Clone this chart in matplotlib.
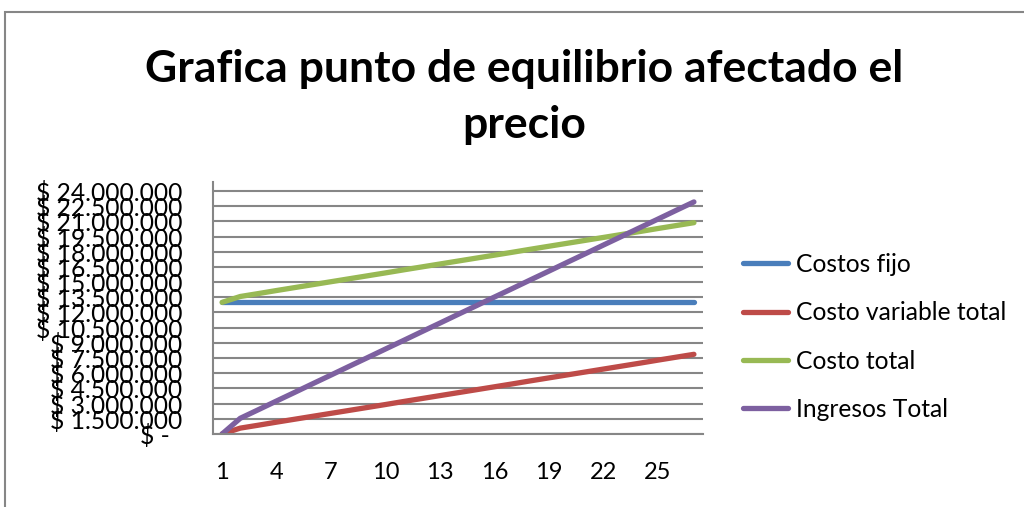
import matplotlib
matplotlib.use("Agg")
import matplotlib.pyplot as plt
from matplotlib.patches import Rectangle
from matplotlib.ticker import FixedLocator, FixedFormatter

# ---- data (values in pesos) ----
categories = list(range(1, 28))
costos_fijo = [13000000] * 27
costo_variable = [0, 580000, 870000, 1170000, 1460000, 1750000, 2040000, 2330000,
                  2620000, 2910000, 3210000, 3500000, 3790000, 4080000, 4370000,
                  4660000, 4950000, 5250000, 5540000, 5830000, 6120000, 6410000,
                  6700000, 6990000, 7290000, 7580000, 7870000]
costo_total = [13000000, 13580000, 13870000, 14170000, 14460000, 14750000, 15040000,
               15330000, 15620000, 15910000, 16210000, 16500000, 16790000, 17080000,
               17370000, 17660000, 17950000, 18250000, 18540000, 18830000, 19120000,
               19410000, 19700000, 19990000, 20290000, 20580000, 20870000]
ingresos_total = [0, 1550000, 2400000, 3260000, 4110000, 4970000, 5820000, 6680000,
                  7530000, 8390000, 9240000, 10100000, 10950000, 11810000, 12660000,
                  13520000, 14370000, 15230000, 16080000, 16940000, 17790000,
                  18650000, 19500000, 20360000, 21210000, 22070000, 22920000]
series_names = ["Costos fijo", "Costo variable total", "Costo total", "Ingresos Total"]
y_ticks = [i * 1500000 for i in range(17)]
y_tick_labels = ["$ -  "] + ["$ " + f"{v:,}".replace(",", ".") for v in y_ticks[1:]]
x_tick_labels = ["1", "4", "7", "10", "13", "16", "19", "22", "25"]
title = "Grafica punto de equilibrio afectado el\nprecio"

colors = ["#4A7EBB", "#BE4B48", "#98B954", "#7D60A0"]
FONT = "Lato"
GRAY = "#868686"

W, H = 1024, 507
fig = plt.figure(figsize=(W / 100, H / 100), dpi=100)
fig.patch.set_facecolor("white")

# outer chart border (left and top visible)
fig.add_artist(Rectangle((5 / W, -0.1), 1.2, 1 - 12 / H + 0.1, transform=fig.transFigure,
                         fill=False, edgecolor=GRAY, linewidth=1.5))

left, right, top, bottom = 213, 703, 182, 434
ax = fig.add_axes([left / W, 1 - bottom / H, (right - left) / W, (bottom - top) / H])

for vals, name, c in zip([costos_fijo, costo_variable, costo_total, ingresos_total],
                         series_names, colors):
    ax.plot(categories, vals, color=c, linewidth=3.8, solid_capstyle="round",
            solid_joinstyle="round", label=name)

ax.set_xlim(0.5, 27.5)
ax.set_ylim(0, 24000000 * 1.037)
ax.yaxis.set_major_locator(FixedLocator(y_ticks))
ax.yaxis.set_major_formatter(FixedFormatter(y_tick_labels))
ax.set_xticks([int(t) for t in x_tick_labels])
ax.set_xticklabels(x_tick_labels)
ax.tick_params(axis="both", length=0, labelcolor="black")
ax.tick_params(axis="x", pad=20, labelsize=17)
ax.tick_params(axis="y", pad=22, labelsize=17.7)
for lab in ax.get_xticklabels() + ax.get_yticklabels():
    lab.set_fontfamily(FONT)

ax.grid(axis="y", color=GRAY, linewidth=1.5)
ax.set_axisbelow(True)
for s in ["top", "right"]:
    ax.spines[s].set_visible(False)
for s in ["left", "bottom"]:
    ax.spines[s].set_color(GRAY)
    ax.spines[s].set_linewidth(1.5)

fig.text(524 / W, 1 - 97 / H, title, ha="center", va="center", fontsize=32,
         fontweight="bold", fontfamily=FONT, linespacing=1.5)

leg = fig.legend(loc="upper left", bbox_to_anchor=(743 / W, 1 - 253 / H), frameon=False,
                 prop={"family": FONT, "size": 17.7}, handlelength=1.85,
                 handletextpad=0.3, labelspacing=1.03, borderpad=0, borderaxespad=0)

fig.savefig("out.png", dpi=100)
